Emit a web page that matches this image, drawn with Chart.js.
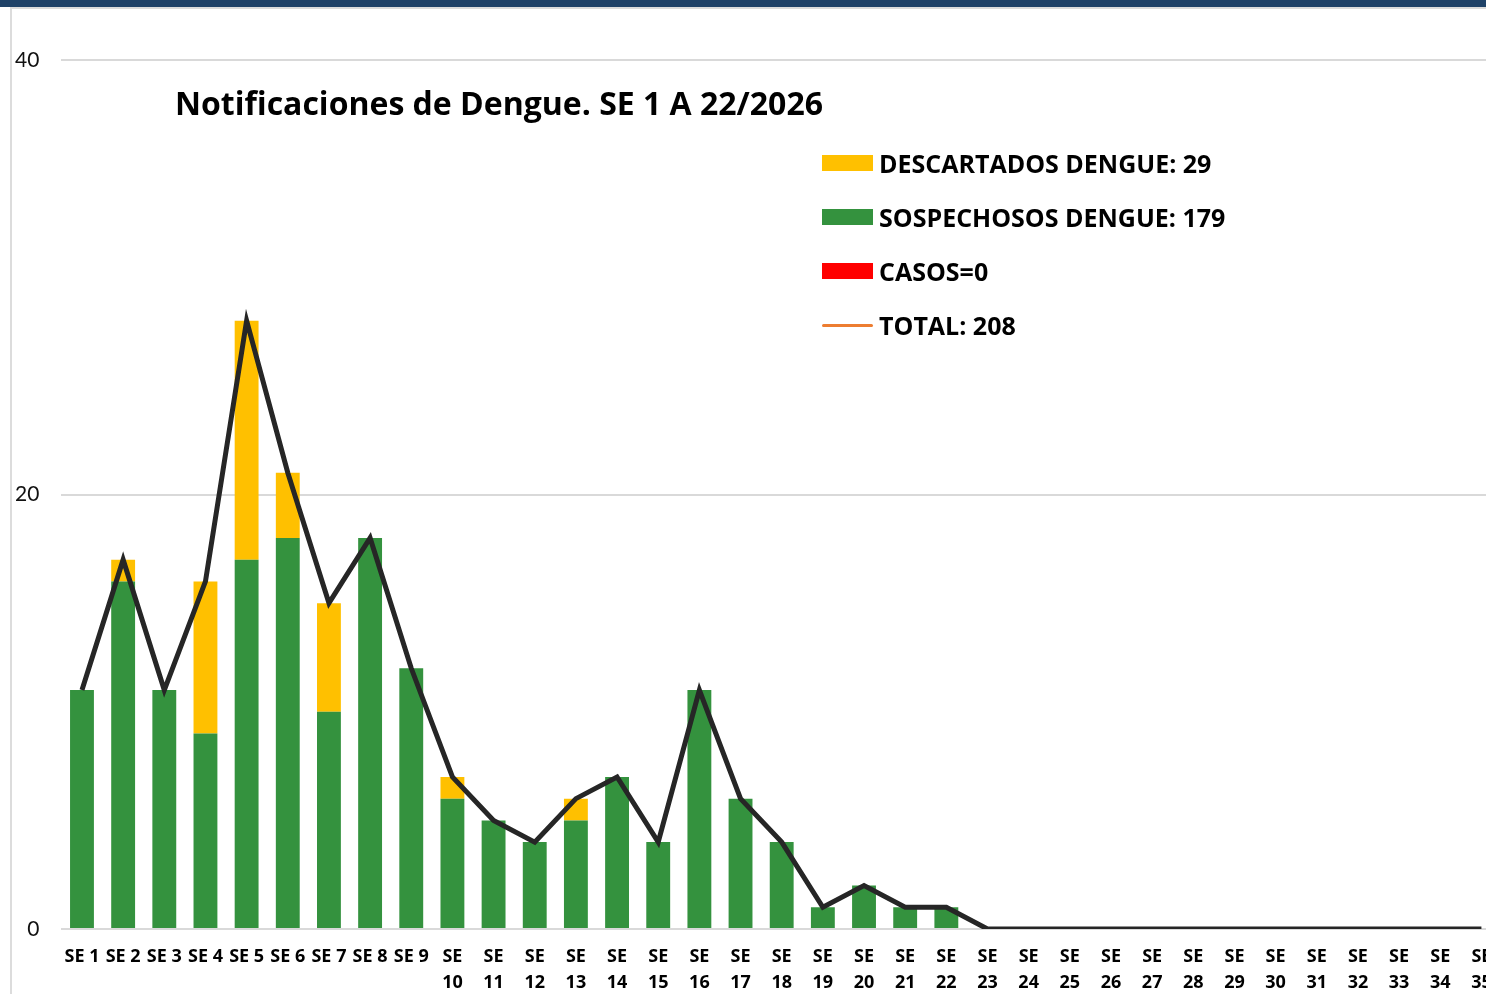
<!DOCTYPE html>
<html lang="es">
<head>
<meta charset="utf-8">
<title>Notificaciones de Dengue. SE 1 A 22/2026</title>
<script src="https://cdn.jsdelivr.net/npm/chart.js@4.4.1/dist/chart.umd.min.js"></script>
<style>
  html, body { margin: 0; padding: 0; width: 1486px; height: 994px; overflow: hidden; background: #fff; }
  body { position: relative; font-family: "Open Sans", Lato, sans-serif; color: #000; }
  .topbar { position: absolute; left: 0; top: 0; width: 1486px; height: 7px; background: #1f4268; }
  .frame { position: absolute; left: 10px; top: 7px; width: 1500px; height: 1000px;
           border-top: 2px solid #dcdcdc; border-left: 2px solid #dcdcdc; }
  .chart-box { position: absolute; left: 0; top: 0; width: 1508px; height: 994px; }
  #chart-title { position: absolute; left: 175px; top: 81px; font-weight: 700; font-size: 32px;
                 white-space: nowrap; }
  #legend { position: absolute; left: 822px; top: 136px; list-style: none; margin: 0; padding: 0; }
  #legend li { display: flex; align-items: center; height: 54px; font-weight: 700; font-size: 25px;
               white-space: nowrap; }
  #legend .box { width: 51px; height: 16px; margin-right: 6px; }
  #legend .ln { width: 51px; height: 3px; margin-right: 6px; border-radius: 2px; }
</style>
</head>
<body>
<div class="topbar"></div>
<div class="frame"></div>
<div class="chart-box"><canvas id="dengueChart"></canvas></div>
<div id="chart-title">Notificaciones de Dengue. SE 1 A 22/2026</div>
<ul id="legend"></ul>
<script>
const weeks = [
  'SE 1', 'SE 2', 'SE 3', 'SE 4', 'SE 5', 'SE 6', 'SE 7', 'SE 8', 'SE 9', 'SE 10',
  'SE 11', 'SE 12', 'SE 13', 'SE 14', 'SE 15', 'SE 16', 'SE 17', 'SE 18', 'SE 19', 'SE 20',
  'SE 21', 'SE 22', 'SE 23', 'SE 24', 'SE 25', 'SE 26', 'SE 27', 'SE 28', 'SE 29', 'SE 30',
  'SE 31', 'SE 32', 'SE 33', 'SE 34', 'SE 35'
];

const sospechosos = [11, 16, 11, 9, 17, 18, 10, 18, 12, 6, 5, 4, 5, 7, 4, 11, 6, 4, 1, 2, 1, 1,
  0, 0, 0, 0, 0, 0, 0, 0, 0, 0, 0, 0, 0];
const descartados = [0, 1, 0, 7, 11, 3, 5, 0, 0, 1, 0, 0, 1, 0, 0, 0, 0, 0, 0, 0, 0, 0,
  0, 0, 0, 0, 0, 0, 0, 0, 0, 0, 0, 0, 0];
const casos = [0, 0, 0, 0, 0, 0, 0, 0, 0, 0, 0, 0, 0, 0, 0, 0, 0, 0, 0, 0, 0, 0,
  0, 0, 0, 0, 0, 0, 0, 0, 0, 0, 0, 0, 0];
const total = [11, 17, 11, 16, 28, 21, 15, 18, 12, 7, 5, 4, 6, 7, 4, 11, 6, 4, 1, 2, 1, 1,
  0, 0, 0, 0, 0, 0, 0, 0, 0, 0, 0, 0, 0];

const yTicks = [0, 20, 40];

// legend in the order the original shows it
const legendOrder = [1, 0, 2, 3];

const htmlLegend = {
  id: 'htmlLegend',
  afterUpdate(chart) {
    const list = document.getElementById('legend');
    list.innerHTML = '';
    legendOrder.forEach(i => {
      const ds = chart.data.datasets[i];
      const li = document.createElement('li');
      const mark = document.createElement('span');
      if (ds.type === 'line') {
        mark.className = 'ln';
        mark.style.background = ds.legendColor;
      } else {
        mark.className = 'box';
        mark.style.background = ds.backgroundColor;
      }
      li.appendChild(mark);
      li.appendChild(document.createTextNode(ds.label));
      list.appendChild(li);
    });
  }
};

const ctx = document.getElementById('dengueChart');

new Chart(ctx, {
  data: {
    labels: weeks,
    datasets: [
      {
        type: 'bar',
        label: 'SOSPECHOSOS DENGUE: 179',
        data: sospechosos,
        backgroundColor: '#34923e',
        stack: 'notif',
        order: 1
      },
      {
        type: 'bar',
        label: 'DESCARTADOS DENGUE: 29',
        data: descartados,
        backgroundColor: '#ffc000',
        stack: 'notif',
        order: 1
      },
      {
        type: 'bar',
        label: 'CASOS=0',
        data: casos,
        backgroundColor: '#ff0000',
        stack: 'notif',
        order: 1
      },
      {
        type: 'line',
        label: 'TOTAL: 208',
        data: total,
        borderColor: '#262626',
        legendColor: '#ed7d31',
        borderWidth: 5,
        pointRadius: 0,
        tension: 0,
        stack: 'total',
        order: 0
      }
    ]
  },
  options: {
    responsive: true,
    maintainAspectRatio: false,
    animation: false,
    layout: { padding: { top: 60, left: 0, right: 6, bottom: 0 } },
    datasets: {
      bar: { barPercentage: 0.58, categoryPercentage: 1, borderWidth: 0 }
    },
    plugins: {
      legend: { display: false },
      title: { display: false }
    },
    scales: {
      x: {
        stacked: true,
        grid: { display: false, drawTicks: false },
        border: { display: false },
        afterFit: s => { s.height = 65; },
        ticks: {
          padding: 15,
          autoSkip: false,
          maxRotation: 0,
          color: '#000',
          font: { family: 'Open Sans', weight: 'bold', size: 18, lineHeight: 26 / 18 },
          callback: function (value) {
            const lab = this.getLabelForValue(value);
            const num = lab.split(' ')[1];
            return num.length > 1 ? ['SE', num] : lab;
          }
        }
      },
      y: {
        stacked: true,
        min: 0,
        max: 40,
        afterFit: s => { s.width = 61.4; },
        afterBuildTicks: s => { s.ticks = yTicks.map(v => ({ value: v })); },
        grid: { color: '#d9d9d9', lineWidth: 2, drawTicks: false },
        border: { display: false },
        ticks: {
          padding: 22,
          color: '#111',
          font: { family: 'Lato', size: 21 }
        }
      }
    }
  },
  plugins: [htmlLegend]
});
</script>
</body>
</html>
